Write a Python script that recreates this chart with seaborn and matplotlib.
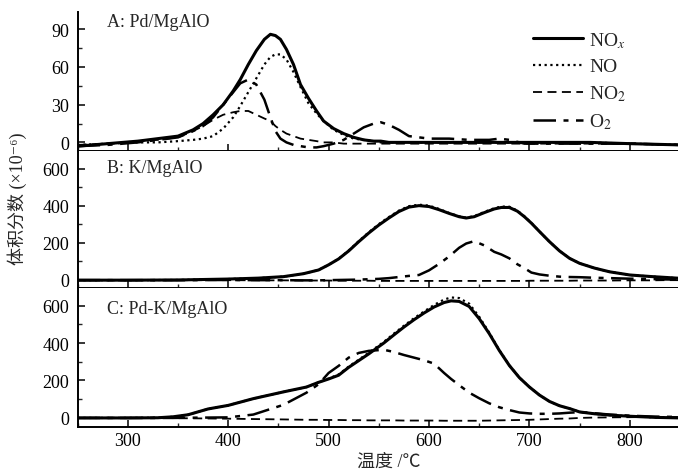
"""
TPD profiles of NOx / NO / NO2 / O2 for three catalysts (three stacked panels)
"""

# coding: utf-8
import pandas as pd
import matplotlib
matplotlib.use('Agg')
import matplotlib.pyplot as plt
from matplotlib.ticker import MultipleLocator
import seaborn as sns

sns.set_style('ticks')
plt.rcParams['font.family'] = ['Liberation Serif', 'Noto Sans CJK SC', 'DejaVu Serif']
plt.rcParams['mathtext.fontset'] = 'stix'

# panel A: Pd/MgAlO
temp_a = [250, 280, 310, 330, 350, 365, 375, 385, 395, 405, 412, 420, 428, 436, 442,
          447, 452, 458, 465, 472, 480, 488, 495, 505, 515, 525, 535, 545, 552, 560,
          570, 580, 600, 620, 640, 660, 670, 680, 695, 720, 760, 800, 850]
nox_a = [-3, -1, 1, 3, 5, 10, 15, 22, 30, 41, 50, 62, 73, 82, 86,
         85, 82, 74, 62, 46, 35, 25, 17, 11, 7, 4, 2, 1, 1, 0,
         0, 0, 0, 0, 0, 0, 0, 0, 0, 0, 0, -1, -2]
no_a = [-2, -1, 0, 0, 1, 2, 3, 5, 11, 20, 29, 40, 51, 62, 68,
        70, 70, 66, 56, 44, 31, 23, 17, 10, 6, 3, 2, 1, 0, 0,
        0, 0, 0, 0, 0, 0, 0, 0, 0, 0, 0, -1, -2]
no2_a = [-2, -1, 1, 2, 4, 9, 13, 18, 22, 24, 25, 25, 22, 19, 17,
         13, 10, 7, 5, 3, 2, 1, 0, 0, -1, -1, -1, -1, -1, -1,
         -1, -1, -1, -1, -1, -1, -1, -1, -1, -1, -1, -1, -2]
o2_a = [-3, -2, 0, 2, 4, 9, 13, 20, 30, 40, 47, 50, 46, 34, 20,
        9, 3, 0, -2, -3, -4, -4, -3, -1, 2, 7, 12, 15, 16, 14,
        10, 5, 3, 3, 2, 2, 3, 2, -1, -1, -1, -1, -2]

# panel B: K/MgAlO
temp_b = [250, 300, 350, 400, 430, 455, 475, 490, 500, 510, 520, 530, 540, 550, 560,
          570, 580, 590, 600, 610, 620, 630, 637, 645, 655, 665, 672, 680, 688, 695,
          702, 710, 720, 730, 740, 750, 765, 780, 800, 820, 835, 850]
nox_b = [-3, -3, -2, 3, 8, 16, 32, 52, 80, 112, 155, 205, 252, 295, 333,
         368, 392, 400, 395, 378, 358, 340, 333, 340, 362, 382, 390, 390, 370, 340,
         305, 260, 205, 155, 115, 88, 62, 42, 25, 17, 12, 7]
no_b = [-3, -3, -2, 3, 8, 16, 32, 52, 80, 113, 157, 208, 256, 300, 338,
        373, 397, 405, 400, 382, 360, 342, 335, 343, 366, 386, 395, 394, 373, 342,
        306, 260, 205, 155, 115, 88, 62, 42, 25, 17, 12, 7]
no2_b = [-3, -3, -3, -3, -4, -4, -5, -5, -5, -6, -6, -6, -6, -7, -7,
         -7, -7, -7, -7, -7, -7, -7, -7, -7, -7, -7, -7, -7, -7, -7,
         -6, -6, -6, -6, -6, -5, -5, -5, -4, -4, -3, -3]
o2_b = [-3, -3, -3, -2, -3, -3, -4, -4, -3, -2, -1, 0, 2, 4, 8,
        14, 20, 25, 50, 85, 125, 172, 195, 208, 185, 150, 136, 115, 83, 62,
        38, 28, 21, 16, 14, 13, 10, 8, 5, 3, 1, 0]

# panel C: Pd-K/MgAlO
temp_c = [250, 300, 330, 345, 360, 380, 400, 425, 455, 478, 490, 500, 510, 520, 530,
          540, 555, 565, 575, 585, 595, 605, 615, 622, 630, 640, 650, 660, 670, 680,
          690, 700, 710, 720, 730, 740, 750, 765, 780, 800, 825, 850]
nox_c = [0, 0, 1, 6, 17, 48, 67, 103, 139, 165, 190, 208, 228, 270, 306,
         342, 400, 443, 485, 524, 560, 592, 616, 625, 622, 595, 530, 450, 360, 280,
         215, 165, 122, 88, 65, 50, 32, 22, 15, 9, 3, 0]
no_c = [0, 0, 1, 6, 17, 48, 67, 103, 139, 165, 190, 210, 232, 274, 311,
        348, 406, 450, 492, 532, 568, 603, 632, 643, 640, 610, 540, 455, 362, 281,
        215, 165, 122, 88, 65, 50, 32, 22, 15, 9, 3, 0]
no2_c = [0, 0, 0, -1, -2, -3, -4, -6, -8, -10, -10, -11, -11, -12, -12,
         -13, -13, -13, -14, -14, -14, -14, -15, -15, -15, -15, -15, -14, -13, -12,
         -11, -10, -8, -6, -4, -3, 0, 2, 3, 4, 5, 5]
o2_c = [0, 0, 0, 0, 1, 2, 3, 18, 70, 135, 180, 240, 278, 322, 347,
        358, 364, 352, 336, 322, 308, 290, 240, 208, 175, 135, 105, 78, 57, 42,
        29, 24, 22, 22, 24, 28, 31, 25, 18, 12, 7, 5]

panel_names = ['A: Pd/MgAlO', 'B: K/MgAlO', 'C: Pd-K/MgAlO']
species = ['NO$_x$', 'NO', 'NO$_2$', 'O$_2$']

panels = [
    (temp_a, [nox_a, no_a, no2_a, o2_a]),
    (temp_b, [nox_b, no_b, no2_b, o2_b]),
    (temp_c, [nox_c, no_c, no2_c, o2_c]),
]

styles = [
    dict(linestyle='-', lw=2.2),
    dict(linestyle=(0, (1, 1.6)), lw=1.6),
    dict(linestyle=(0, (5, 3)), lw=1.3),
    dict(linestyle=(0, (9, 3, 2, 3)), lw=1.8),
]

fig = plt.figure(figsize=(6.78, 4.77), dpi=100)
boxes = [[0.1145, 0.682, 0.8855, 0.2914],
         [0.1145, 0.3935, 0.8855, 0.2885],
         [0.1145, 0.1021, 0.8855, 0.2914]]
ylims = [(-6.6, 104), (-47, 697), (-50, 692)]
label_y = [0.933, 0.88, 0.856]

axes = []
for i, (temps, series) in enumerate(panels):
    ax = fig.add_axes(boxes[i])
    df = pd.DataFrame({'temp': temps})
    for name, vals, st in zip(species, series, styles):
        df[name] = vals
        sns.lineplot(data=df, x='temp', y=name, ax=ax, color='black',
                     label=name if i == 0 else None, **st)
    ax.set_xlim(250, 848)
    ax.set_ylim(*ylims[i])
    ax.xaxis.set_major_locator(MultipleLocator(100))
    ax.xaxis.set_minor_locator(MultipleLocator(50))
    if i == 0:
        ax.yaxis.set_major_locator(MultipleLocator(30))
        ax.yaxis.set_minor_locator(MultipleLocator(15))
    else:
        ax.yaxis.set_major_locator(MultipleLocator(200))
        ax.yaxis.set_minor_locator(MultipleLocator(100))
    ax.tick_params(which='major', direction='in', length=5, width=1.1,
                   labelsize=13, colors='black')
    ax.tick_params(which='minor', direction='in', length=3, width=1.0)
    ax.tick_params(axis='y', pad=6)
    ax.set_xlabel('')
    ax.set_ylabel('')
    if i < 2:
        ax.tick_params(axis='x', labelbottom=False)
    for s in ['top', 'right']:
        ax.spines[s].set_visible(False)
    for s in ['left', 'bottom']:
        ax.spines[s].set_linewidth(1.4)
        ax.spines[s].set_color('black')
    ax.text(0.049, label_y[i], panel_names[i], transform=ax.transAxes,
            fontsize=13, va='center', ha='left')
    axes.append(ax)

leg = axes[0].legend(loc='upper left', bbox_to_anchor=(0.745, 0.925),
                     frameon=False, fontsize=14, handlelength=2.6,
                     handletextpad=0.3, labelspacing=0.42, borderaxespad=0)

axes[2].set_xlabel('温度 /℃', fontsize=13)
axes[2].xaxis.set_label_coords(0.519, -0.18)
fig.text(0.026, 0.583, '体积分数 (×10⁻⁶)', rotation=90, fontsize=13,
         ha='center', va='center')

fig.savefig('out.png', dpi=100)
